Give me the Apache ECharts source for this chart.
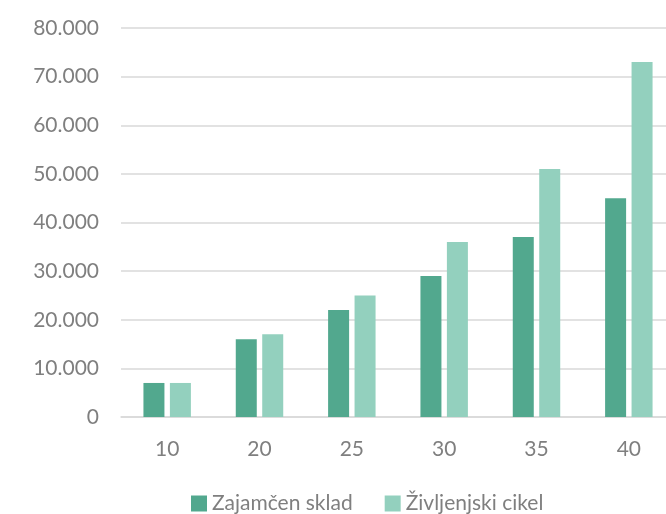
<!DOCTYPE html>
<html>
<head>
<meta charset="utf-8">
<script src="https://cdn.jsdelivr.net/npm/echarts@6/dist/echarts.min.js"></script>
<style>
html,body{margin:0;padding:0;background:#fff;}
#chart{width:666px;height:514px;}
</style>
</head>
<body>
<div id="chart"></div>
<script>
const categories = ['10', '20', '25', '30', '35', '40'];
const zajamcenSklad = [7000, 16000, 22000, 29000, 37000, 45000];
const zivljenjskiCikel = [7000, 17000, 25000, 36000, 51000, 73000];
const seriesNames = ['Zajamčen sklad', 'Življenjski cikel'];

const chart = echarts.init(document.getElementById('chart'));
const font = 'Lato, "Open Sans", sans-serif';
chart.setOption({
  animation: false,
  grid: { left: 121, width: 554, top: 28, height: 389, outerBoundsMode: 'none', containLabel: false },
  legend: {
    left: 186, top: 488,
    itemWidth: 16, itemHeight: 16, itemGap: 32,
    icon: 'rect',
    textStyle: { color: '#7f7f7f', fontSize: 21, fontFamily: font },
    data: seriesNames
  },
  xAxis: {
    type: 'category',
    data: categories,
    axisTick: { show: false },
    axisLine: { lineStyle: { color: '#d9d9d9', width: 1.5 } },
    axisLabel: { color: '#7f7f7f', fontSize: 21, fontFamily: font, margin: 22 }
  },
  yAxis: {
    type: 'value',
    min: 0, max: 80000, interval: 10000,
    axisLine: { show: false },
    axisTick: { show: false },
    splitLine: { lineStyle: { color: '#d9d9d9', width: 1.5 } },
    axisLabel: {
      color: '#7f7f7f', fontSize: 21, fontFamily: font, margin: 22,
      formatter: v => v === 0 ? '0' : (v / 1000).toFixed(0) + '.000'
    }
  },
  series: [
    {
      name: seriesNames[0], type: 'bar', data: zajamcenSklad,
      barWidth: 21, barGap: '26%',
      itemStyle: { color: '#52a88e' }
    },
    {
      name: seriesNames[1], type: 'bar', data: zivljenjskiCikel,
      barWidth: 21, barGap: '26%',
      itemStyle: { color: '#93d0be' }
    }
  ]
});
</script>
</body>
</html>
